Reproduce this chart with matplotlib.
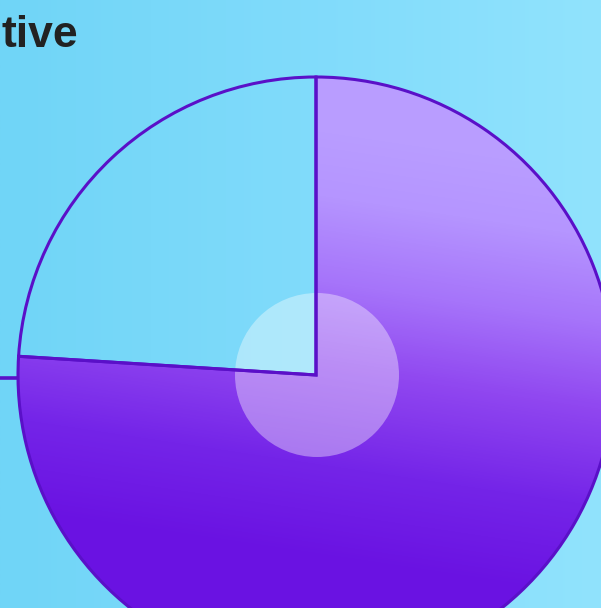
import numpy as np
import matplotlib
matplotlib.use("Agg")
import matplotlib.pyplot as plt
from matplotlib.colors import LinearSegmentedColormap

# Data
labels = ["Complete", "Remaining"]
values = [76, 24]
title_text = "tive"

W, H = 601, 608
fig = plt.figure(figsize=(W / 100, H / 100), dpi=100)
ax = fig.add_axes([0, 0, 1, 1])

# Horizontal background gradient
bg_cmap = LinearSegmentedColormap.from_list("bg", ["#70d5f7", "#80dbfb", "#91e3fd"])
gx = np.linspace(0, 1, 256)[None, :]
ax.imshow(gx, cmap=bg_cmap, extent=[0, W, 0, H], aspect="auto", zorder=0)

cx, cy, r = 316, H - 375, 298
outline = "#5a10c8"

# Leader stub on the left
ax.plot([0, cx - r], [H - 378, H - 378], color=outline, lw=2.6, zorder=2,
        solid_capstyle="butt")

wedges, _ = ax.pie(values, startangle=90, counterclock=False,
                   center=(cx, cy), radius=r,
                   colors=["none", "none"],
                   wedgeprops=dict(edgecolor=outline, linewidth=2.2),
                   frame=True)
ax.set_xlim(0, W)
ax.set_ylim(0, H)
ax.set_aspect("auto")
ax.axis("off")
for w in wedges:
    w.set_zorder(5)

# Purple gradient fill (top light, bottom deep), clipped to the first slice
pur_cmap = LinearSegmentedColormap.from_list(
    "pur",
    [(0.0, "#6a12e2"), (0.22, "#7424e8"), (0.45, "#9047f0"),
     (0.65, "#a674fa"), (0.85, "#b595ff"), (1.0, "#b99dff")])
yy, xx = np.mgrid[0:H, 0:W]
# position along a nearly vertical axis, slightly tilted toward upper right
t = (yy - (H - 560)) + 0.15 * (xx - cx)
t = np.clip(t / (560 - 130), 0, 1)
img = ax.imshow(t, cmap=pur_cmap, extent=[0, W, 0, H], origin="lower",
                aspect="auto", zorder=3)
img.set_clip_path(wedges[0])

# Translucent inner disc, beneath the slice outlines
ax.add_patch(plt.Circle((cx + 1, cy), 82, facecolor="white", alpha=0.38,
                        edgecolor="none", zorder=4))

ax.text(1, H - 47, title_text, ha="left", va="baseline", fontsize=32,
        fontweight="bold", color="#222222", family="Liberation Sans", zorder=6)

fig.savefig("out.png", dpi=100)
